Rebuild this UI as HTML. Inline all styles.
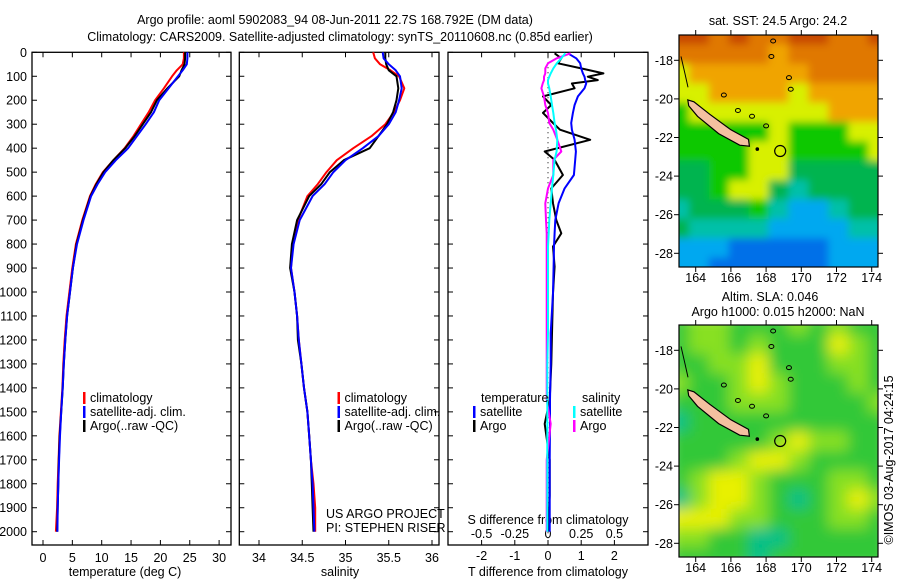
<!DOCTYPE html>
<html><head><meta charset="utf-8"><style>
html,body{margin:0;padding:0;background:#fff;}
svg{display:block;font-family:"Liberation Sans",sans-serif;}
text{font-size:12.5px;fill:#000;}
</style></head><body>
<svg id="chart" width="900" height="580" viewBox="0 0 900 580" xmlns="http://www.w3.org/2000/svg">
<defs>
<filter id="blurS" x="0" y="0" width="1" height="1"><feGaussianBlur stdDeviation="4"/></filter>
<filter id="blurL" x="0" y="0" width="1" height="1"><feGaussianBlur stdDeviation="7"/></filter>
<clipPath id="clipTop"><rect x="679" y="35" width="199" height="232"/></clipPath>
<clipPath id="clipBot"><rect x="679" y="325" width="199" height="232"/></clipPath>
</defs>
<text x="335" y="24" text-anchor="middle">Argo profile: aoml 5902083_94 08-Jun-2011 22.7S 168.792E (DM data)</text>
<text x="340" y="41" text-anchor="middle">Climatology: CARS2009. Satellite-adjusted climatology: synTS_20110608.nc (0.85d earlier)</text>
<g id="p1"></g>
<g id="p2"></g>
<g id="p3"></g>
<g id="m1"></g>
<g id="m2"></g>
<text transform="translate(893,460) rotate(-90)" text-anchor="middle">©IMOS 03-Aug-2017 04:24:15</text>
</svg>
<script>
const depths=[0,25,50,75,100,150,200,250,300,350,400,450,500,550,600,700,800,900,1000,1100,1200,1300,1400,1500,1600,1700,1800,1900,2000];
const argoT=[24.2,24.2,24.1,23.6,23.2,21.2,19.4,18.4,17.0,15.6,14.0,12.0,10.3,9.1,8.1,6.8,5.7,5.1,4.6,4.1,3.8,3.55,3.35,3.1,2.85,2.7,2.6,2.5,2.4];
const climT=[24.0,24.0,23.8,22.8,22.0,20.6,19.1,18.0,16.7,15.4,13.9,12.0,10.2,9.0,8.0,6.7,5.6,5.0,4.5,4.0,3.7,3.45,3.3,3.05,2.8,2.65,2.5,2.4,2.2];
const satT=[24.6,24.6,24.5,23.8,23.0,21.4,19.8,18.9,17.5,16.0,14.5,12.4,10.6,9.3,8.2,6.9,5.8,5.1,4.6,4.1,3.8,3.55,3.35,3.1,2.9,2.75,2.6,2.5,2.45];
const argoS=[35.46,35.46,35.47,35.5,35.59,35.61,35.59,35.55,35.48,35.38,35.28,34.98,34.82,34.72,34.58,34.44,34.38,34.36,34.41,34.44,34.45,34.49,34.52,34.56,34.58,34.6,34.61,34.62,34.63];
const climS=[35.32,35.34,35.4,35.52,35.62,35.68,35.63,35.56,35.46,35.3,35.09,34.9,34.78,34.68,34.56,34.45,34.39,34.37,34.41,34.44,34.46,34.49,34.52,34.56,34.58,34.6,34.63,34.65,34.65];
const satS=[35.43,35.44,35.5,35.58,35.63,35.65,35.62,35.58,35.5,35.38,35.2,35.0,34.86,34.76,34.62,34.47,34.4,34.37,34.41,34.44,34.46,34.49,34.52,34.56,34.58,34.6,34.62,34.63,34.64];
const dDepths=[4,25,46,67,88,102,116,130,150,184,220,253,295,323,365,414,449,512,568,630,700,755,810,894,1005,1172,1300,1450,1550,1700,1850,2000];
const argoDT=[0.2,0.4,0.3,1.0,1.67,1.2,1.5,0.72,0.8,-0.15,0.1,-0.15,0.15,0.36,1.27,-0.1,0.2,0.45,0.1,0.15,0.25,0.4,0.15,0.2,0.15,0.12,0.1,0.05,-0.1,0.05,0.05,0.0];
const satDT=[0.6,0.85,0.97,1.0,1.05,1.1,1.12,1.15,1.1,0.9,0.8,0.75,0.7,0.72,0.8,0.84,0.82,0.78,0.5,0.32,0.22,0.2,0.18,0.17,0.15,0.08,0.08,0.06,0.06,0.05,0.05,0.05];
const argoDS=[0.17,0.066,0.0,-0.02,-0.02,-0.03,-0.03,-0.04,-0.05,-0.03,-0.02,0.0,0.01,0.04,0.07,0.1,0.04,0.04,0.0,-0.02,-0.015,-0.01,-0.01,-0.01,-0.01,-0.01,-0.01,-0.01,0.02,-0.01,-0.01,-0.01];
const satDS=[0.13,0.1,0.066,0.04,0.02,0.01,0.0,0.0,0.01,0.02,0.03,0.04,0.05,0.06,0.07,0.065,0.05,0.04,0.03,0.02,0.01,0.005,0.0,0.0,0.0,0.0,-0.005,-0.005,-0.005,-0.005,-0.005,-0.005];
const depthTicks=[0,100,200,300,400,500,600,700,800,900,1000,1100,1200,1300,1400,1500,1600,1700,1800,1900,2000];
const tTicks=[0,5,10,15,20,25,30];
const sTicks=[34,34.5,35,35.5,36];
const dtTicks=[-2,-1,0,1,2];
const dsTicks=[-0.5,-0.25,0,0.25,0.5];
const dsLabels=["-0.5","-0.25","0","0.25","0.5"];
const mapLonTicks=[164,166,168,170,172,174];
const mapLatTicks=[-18,-20,-22,-24,-26,-28];
const sstGrid=["RROROORROOR","OOOOOoOOOOO","YooooooOOOO","YYooooYoooo","GYYYYYYYooo","GGGGGYGGGYY","GGGGYYGGGGY","ggGGYYggggg","ggGYYgCgggg","CgggGCBBCgg","gCCCCBBBBCC","BBBDDDDDBBB","BBDDDDDDBBB"];
const slaGrid=["GLLGGGLGLGG","GLLGLGGGyLG","GGLLyGGGLLG","LGGLyLGGGLG","GGGLLLGGGGL","TGGGGGGGGGG","GGGGGLyLLGG","GGGLyyLGGGG","GLyyLGGGLLG","TLyyLGTGLyL","yyyLLGGGLLG","LLGGTTGGGGG","GGGGTGGGGGG"];
const sstColors={R:"#c84800",O:"#e07800",o:"#f0a400",Y:"#d8f000",G:"#10c800",g:"#00b450",C:"#00c0a8",B:"#00a8f0",D:"#0070e8"};
const slaColors={G:"#30c838",L:"#88e020",Y:"#c8f000",y:"#e8f000",T:"#00c088"};

const NS="http://www.w3.org/2000/svg";
function el(tag,attrs,parent,txt){const e=document.createElementNS(NS,tag);for(const k in attrs)e.setAttribute(k,attrs[k]);if(txt!==undefined)e.textContent=txt;parent.appendChild(e);return e;}
const TOP=52.3,BOT=545,y0=52.3,ky=0.2397;
const yD=d=>y0+d*ky;
function frame(g,L,R){
  el('rect',{x:L,y:TOP,width:R-L,height:BOT-TOP,fill:'none',stroke:'#000','stroke-width':1.3},g);
  depthTicks.forEach(d=>{const y=yD(d);
    const a=el('line',{x1:L,x2:L+5,y1:y,y2:y,stroke:'#000'},g);
    
    el('line',{x1:R-5,x2:R,y1:y,y2:y,stroke:'#000'},g);});
}
function line(g,xs,ds,xf,color,name,w){
  const pts=xs.map((v,i)=>xf(v).toFixed(1)+','+yD(ds[i]).toFixed(1)).join(' ');
  const p=el('polyline',{points:pts,fill:'none',stroke:color,'stroke-width':w||2,'stroke-linejoin':'round'},g);
  
  
}
function legendItem(g,x,y,color,label,name){
  el('rect',{x:x,y:y-10,width:2.5,height:12,fill:color},g);
  const t=el('text',{x:x+7,y:y},g,label);
  
  
}
// Panel 1 temperature
const g1=document.getElementById('p1');const xT=v=>43+v*5.87;
frame(g1,32,231);
depthTicks.forEach(d=>{const t=el('text',{x:27,y:yD(d)+4.5,'text-anchor':'end'},g1,String(d));
  });
tTicks.forEach(v=>{const x=xT(v);el('line',{x1:x,x2:x,y1:BOT,y2:BOT-5,stroke:'#000'},g1);el('line',{x1:x,x2:x,y1:TOP,y2:TOP+5,stroke:'#000'},g1);
  const t=el('text',{x:x,y:562,'text-anchor':'middle'},g1,String(v));});
el('text',{x:125,y:576,'text-anchor':'middle',},g1,'temperature (deg C)');
line(g1,climT,depths,xT,'#ff0000','clim-temp-line');
line(g1,argoT,depths,xT,'#000000','argo-temp-line');
line(g1,satT,depths,xT,'#0000ff','sat-temp-line');
legendItem(g1,83,402,'#ff0000','climatology','legend-climatology');
legendItem(g1,83,416,'#0000ff','satellite-adj. clim.','legend-satellite');
legendItem(g1,83,430,'#000000','Argo(..raw -QC)','legend-argo');
// Panel 2 salinity
const g2=document.getElementById('p2');const xS=v=>259+(v-34)*86.5;
frame(g2,239.3,439);
sTicks.forEach(v=>{const x=xS(v);el('line',{x1:x,x2:x,y1:BOT,y2:BOT-5,stroke:'#000'},g2);el('line',{x1:x,x2:x,y1:TOP,y2:TOP+5,stroke:'#000'},g2);
  const t=el('text',{x:x,y:562,'text-anchor':'middle'},g2,String(v));});
el('text',{x:340,y:576,'text-anchor':'middle',},g2,'salinity');
line(g2,climS,depths,xS,'#ff0000','clim-sal-line');
line(g2,argoS,depths,xS,'#000000','argo-sal-line');
line(g2,satS,depths,xS,'#0000ff','sat-sal-line');
legendItem(g2,337.5,402,'#ff0000','climatology','legend-climatology-2');
legendItem(g2,337.5,416,'#0000ff','satellite-adj. clim.','legend-satellite-2');
legendItem(g2,337.5,430,'#000000','Argo(..raw -QC)','legend-argo-2');
el('text',{x:326,y:518,},g2,'US ARGO PROJECT');
el('text',{x:326,y:532,},g2,'PI: STEPHEN RISER');
// Panel 3 differences
const g3=document.getElementById('p3');const xDT=v=>548+v*33.2;const xDS=v=>548+v*132.8;
el('rect',{x:448,y:TOP,width:200,height:BOT-TOP,fill:'none',stroke:'#000','stroke-width':1.3},g3);
depthTicks.forEach(d=>{el('line',{x1:448,x2:453,y1:yD(d),y2:yD(d),stroke:'#000'},g3);el('line',{x1:643,x2:648,y1:yD(d),y2:yD(d),stroke:'#000'},g3);});
el('line',{x1:548,x2:548,y1:TOP,y2:BOT,stroke:'#000','stroke-dasharray':'1,4'},g3);
dtTicks.forEach(v=>{const x=xDT(v);el('line',{x1:x,x2:x,y1:TOP,y2:TOP+5,stroke:'#000'},g3);el('line',{x1:x,x2:x,y1:BOT,y2:BOT-5,stroke:'#000'},g3);
  const t=el('text',{x:x,y:560,'text-anchor':'middle'},g3,String(v));});
dsTicks.forEach((v,i)=>{const t=el('text',{x:xDS(v),y:538,'text-anchor':'middle'},g3,dsLabels[i]);});
el('text',{x:548,y:524,'text-anchor':'middle',},g3,'S difference from climatology');
el('text',{x:548,y:576,'text-anchor':'middle',},g3,'T difference from climatology');
line(g3,argoDT,dDepths,xDT,'#000000','argo-dt-line');
line(g3,satDT,dDepths,xDT,'#0000ff','sat-dt-line');
line(g3,argoDS,dDepths,xDS,'#ff00ff','argo-ds-line');
line(g3,satDS,dDepths,xDS,'#00ffff','sat-ds-line');
el('text',{x:481,y:402,},g3,'temperature');
el('text',{x:582,y:402,},g3,'salinity');
legendItem(g3,473,416,'#0000ff','satellite','legend-t-satellite');
legendItem(g3,473,430,'#000000','Argo','legend-t-argo');
legendItem(g3,573,416,'#00ffff','satellite','legend-s-satellite');
legendItem(g3,573,430,'#ff00ff','Argo','legend-s-argo');
// Maps
function map(g,top,grid,colors,clipId,filt){
  const L=679,R=878,H=232;
  const lonX=lon=>695.7+(lon-164)*17.6;
  const latY=lat=>top+25.3+(-18-lat)*19.3;
  const inner=el('g',{'clip-path':'url(#'+clipId+')'},g);
  const gg=el('g',{filter:'url(#'+filt+')'},inner);
  const rows=grid.length,cols=grid[0].length;
  const cw=(R-L+20)/cols,ch=(H+20)/rows;
  grid.forEach((row,r)=>{for(let c=0;c<cols;c++){el('rect',{x:L-10+c*cw,y:top-10+r*ch,width:cw+1,height:ch+1,fill:colors[row[c]]},gg);}});
  const isl=[[163.55,-20.05],[163.9,-20.15],[164.8,-20.8],[166.0,-21.6],[167.0,-22.1],[167.05,-22.45],[166.5,-22.4],[165.3,-21.8],[164.1,-20.9],[163.6,-20.35]];
  const ip=el('polygon',{points:isl.map(p=>lonX(p[0]).toFixed(1)+','+latY(p[1]).toFixed(1)).join(' '),fill:'#f4c0a0',stroke:'#000','stroke-width':1.2},inner);
  
  [[165.6,-19.8],[166.4,-20.6],[167.2,-20.9],[168.0,-21.4],[168.3,-17.8],[169.3,-18.9],[169.4,-19.5],[168.4,-17.0]].forEach(p=>{
    el('ellipse',{cx:lonX(p[0]),cy:latY(p[1]),rx:2.5,ry:2,fill:'none',stroke:'#000','stroke-width':1},inner);});
  el('circle',{cx:lonX(167.5),cy:latY(-22.6),r:1.8,fill:'#000'},inner);
  el('path',{d:'M'+(L+2)+' '+latY(-17.8)+' L'+(L+6)+' '+latY(-18.7)+' L'+(L+9)+' '+latY(-19.4),fill:'none',stroke:'#000'},inner);
  const c=el('circle',{cx:lonX(168.8),cy:latY(-22.7),r:5.5,fill:'none',stroke:'#000','stroke-width':1.2},inner);
  
  el('rect',{x:L,y:top,width:R-L,height:H,fill:'none',stroke:'#000','stroke-width':1.2},g);
  mapLonTicks.forEach(v=>{const x=lonX(v);el('line',{x1:x,x2:x,y1:top+H,y2:top+H+5,stroke:'#000'},g);el('line',{x1:x,x2:x,y1:top,y2:top-5,stroke:'#000'},g);
    const t=el('text',{x:x,y:top+H+15,'text-anchor':'middle'},g,String(v));});
  mapLatTicks.forEach(v=>{const y=latY(v);el('line',{x1:L-5,x2:L,y1:y,y2:y,stroke:'#000'},g);el('line',{x1:R,x2:R+5,y1:y,y2:y,stroke:'#000'},g);
    const t=el('text',{x:L-6,y:y+4.5,'text-anchor':'end'},g,String(v));});
}
const m1=document.getElementById('m1');
el('text',{x:778,y:25,'text-anchor':'middle',},m1,'sat. SST: 24.5 Argo: 24.2');
map(m1,35,sstGrid,sstColors,'clipTop','blurS');
const m2=document.getElementById('m2');
el('text',{x:770,y:301,'text-anchor':'middle',},m2,'Altim. SLA: 0.046');
el('text',{x:778,y:316,'text-anchor':'middle',},m2,'Argo h1000: 0.015 h2000: NaN');
map(m2,325,slaGrid,slaColors,'clipBot','blurL');
</script>
</body></html>
